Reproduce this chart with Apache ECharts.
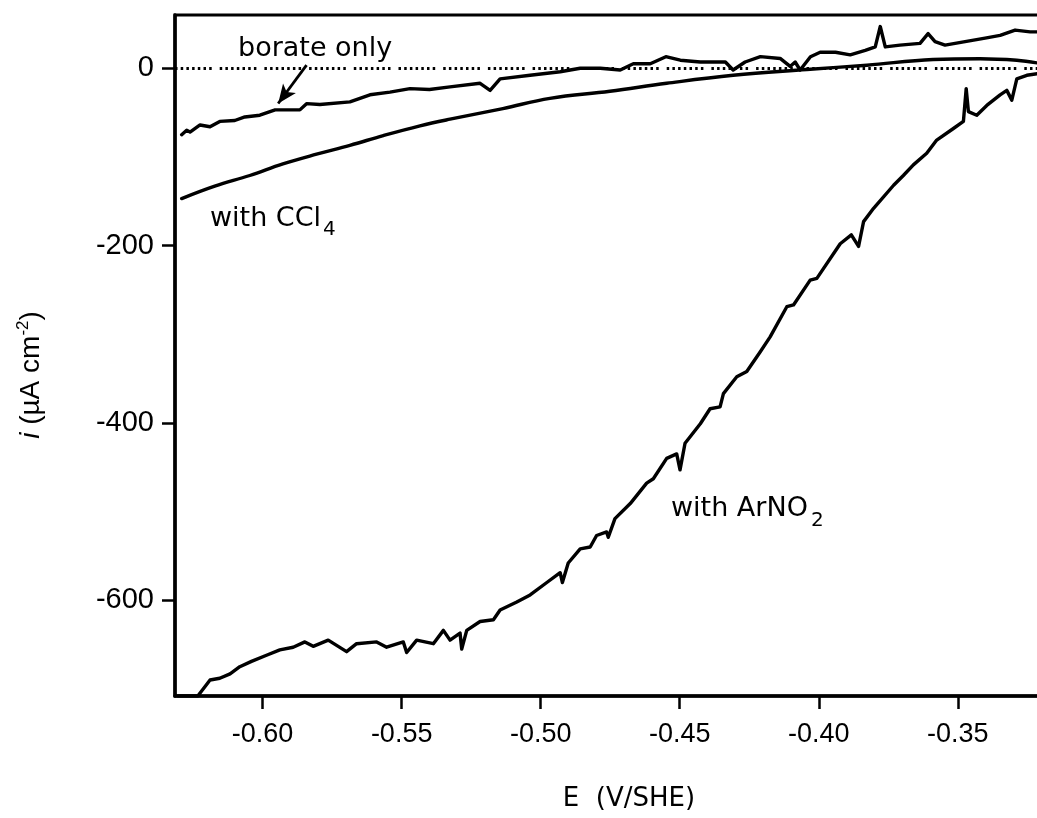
<!DOCTYPE html>
<html><head><meta charset="utf-8">
<script src="https://cdn.jsdelivr.net/npm/echarts@6/dist/echarts.min.js"></script>
<style>html,body{margin:0;padding:0;background:#fff}#c{width:1037px;height:818px}</style>
</head><body><div id="c"></div>
<script>
// tick labels
const xTicks = [-0.60, -0.55, -0.50, -0.45, -0.40, -0.35];
const yTicks = [-600, -400, -200, 0];

// borate only
const borateE = [-0.6291,-0.6273,-0.6261,-0.6225,-0.6189,-0.6154,-0.6100,-0.6064,-0.6010,-0.5955,-0.5866,-0.5842,-0.5794,-0.5686,-0.5614,-0.5542,-0.5470,-0.5400,-0.5326,-0.5218,-0.5182,-0.5146,-0.5038,-0.4930,-0.4858,-0.4786,-0.4714,-0.4667,-0.4606,-0.4550,-0.4498,-0.4426,-0.4336,-0.4308,-0.4265,-0.4210,-0.4139,-0.4103,-0.4085,-0.4067,-0.4030,-0.3995,-0.3940,-0.3887,-0.3833,-0.3797,-0.3779,-0.3761,-0.3708,-0.3636,-0.3607,-0.3582,-0.3546,-0.3474,-0.3402,-0.3348,-0.3294,-0.3240,-0.3210];
const borateI = [-75,-70,-72,-64,-66,-60,-59,-55,-53,-47,-47,-40,-41,-38,-30,-27,-23,-24,-21,-17,-25,-12,-8,-4,0,0,-2,5,5,13,9,7,7,-2,7,13,11,2,7,-2,13,18,18,15,20,24,47,24,26,28,39,30,26,30,34,37,43,41,41];

// with CCl4
const cclE = [-0.6291,-0.6172,-0.6046,-0.5927,-0.5806,-0.5686,-0.5566,-0.5434,-0.5326,-0.5136,-0.4967,-0.4751,-0.4547,-0.4308,-0.4043,-0.3827,-0.3589,-0.3420,-0.3288,-0.3215];
const cclI = [-147,-133,-121,-108,-97,-87,-76,-65,-57.5,-45.5,-34,-26,-17,-8,-1.5,3.4,9.8,10.7,9,6];

// with ArNO2
const arE = [-0.6305,-0.6233,-0.6189,-0.6154,-0.6117,-0.6082,-0.6040,-0.5986,-0.5938,-0.5890,-0.5848,-0.5818,-0.5764,-0.5698,-0.5662,-0.5590,-0.5554,-0.5494,-0.5482,-0.5446,-0.5386,-0.5350,-0.5326,-0.5290,-0.5284,-0.5266,-0.5218,-0.5170,-0.5146,-0.5086,-0.5038,-0.4978,-0.4930,-0.4922,-0.4901,-0.4858,-0.4822,-0.4799,-0.4763,-0.4757,-0.4733,-0.4678,-0.4619,-0.4595,-0.4547,-0.4511,-0.4499,-0.4481,-0.4426,-0.4391,-0.4355,-0.4343,-0.4295,-0.4259,-0.4211,-0.4175,-0.4115,-0.4091,-0.4031,-0.4007,-0.3923,-0.3883,-0.3857,-0.3839,-0.3803,-0.3731,-0.3696,-0.3660,-0.3612,-0.3576,-0.3516,-0.3480,-0.3470,-0.3462,-0.3432,-0.3396,-0.3348,-0.3324,-0.3306,-0.3288,-0.3252,-0.3210];
const arI = [-708,-708,-690,-688,-683,-675,-669,-662,-656,-653,-647,-652,-645,-658,-649,-647,-653,-647,-659,-645,-649,-634,-645,-637,-655,-634,-624,-622,-611,-602,-594,-580,-569,-580,-558,-542,-540,-527,-523,-529,-508,-491,-468,-463,-440,-435,-453,-423,-401,-384,-382,-367,-348,-342,-320,-303,-269,-267,-239,-237,-198,-188,-201,-173,-158,-132,-121,-109,-96,-81,-68,-60,-23,-49,-53,-42,-30,-25,-36,-12,-8,-6];

const zip = (a, b) => a.map((v, i) => [v, b[i]]);

const chart = echarts.init(document.getElementById('c'), null, {renderer: 'canvas'});
const lineStyle = {color: '#000', width: 3.4, join: 'round', cap: 'round'};
const dots = [];
for (let k = 0; k < 6; k++) { dots.push(2.5, 3.2); }
dots.push(2.5, 8);

const option = {
  animation: false,
  backgroundColor: '#fff',
  grid: {left: 175, right: -4, top: 15, bottom: 122, outerBoundsMode: 'none', containLabel: false,
         show: true, borderColor: '#000', borderWidth: 3, backgroundColor: 'transparent'},
  xAxis: {
    type: 'value', min: -0.6315, max: -0.3201,
    axisLine: {show: true, onZero: false, lineStyle: {color: '#000', width: 3.5}},
    axisTick: {show: true, customValues: xTicks, length: 13, lineStyle: {color: '#000', width: 2.5}},
    axisLabel: {customValues: xTicks, formatter: v => v.toFixed(2), fontSize: 27, color: '#000', fontFamily: 'Liberation Sans', margin: 25},
    splitLine: {show: false}
  },
  yAxis: {
    type: 'value', min: -708, max: 60,
    axisLine: {show: true, onZero: false, lineStyle: {color: '#000', width: 3.5}},
    axisTick: {show: true, customValues: yTicks, length: 13, lineStyle: {color: '#000', width: 2.5}},
    axisLabel: {customValues: yTicks, formatter: v => String(v), fontSize: 29, color: '#000', fontFamily: 'Liberation Sans', margin: 21},
    splitLine: {show: false}
  },
  series: [
    {
      name: 'borate only', type: 'line', data: zip(borateE, borateI), symbol: 'none', showSymbol: false,
      lineStyle: lineStyle, z: 3,
      markLine: {
        silent: true, animation: false, symbol: ['none', 'none'], label: {show: false},
        emphasis: {disabled: true},
        data: [
          {yAxis: 0, lineStyle: {color: '#000', width: 3, type: dots}},
          [{coord: [-0.5842, 3.4], symbol: 'none', lineStyle: {color: '#000', width: 2.8, type: 'solid'}},
           {coord: [-0.5944, -39.8], symbol: 'arrow', symbolSize: [12, 19]}]
        ]
      }
    },
    {
      name: 'with CCl4', type: 'line', data: zip(cclE, cclI), symbol: 'none', showSymbol: false, smooth: 0.4,
      lineStyle: lineStyle, z: 3
    },
    {
      name: 'with ArNO2', type: 'line', data: zip(arE, arI), symbol: 'none', showSymbol: false,
      lineStyle: lineStyle, z: 3
    }
  ],
  graphic: [
    {type: 'text', x: 238, y: 48.5, style: {text: 'borate only', fontSize: 27, fontFamily: 'DejaVu Sans', fill: '#000', align: 'left', verticalAlign: 'middle'}},
    {type: 'text', x: 210, y: 219, style: {text: 'with CCl', fontSize: 27, fontFamily: 'DejaVu Sans', fill: '#000', align: 'left', verticalAlign: 'middle'}},
    {type: 'text', x: 323, y: 230, style: {text: '4', fontSize: 20, fontFamily: 'DejaVu Sans', fill: '#000', align: 'left', verticalAlign: 'middle'}},
    {type: 'text', x: 671, y: 509, style: {text: 'with ArNO', fontSize: 27, fontFamily: 'DejaVu Sans', fill: '#000', align: 'left', verticalAlign: 'middle'}},
    {type: 'text', x: 811, y: 521, style: {text: '2', fontSize: 20, fontFamily: 'DejaVu Sans', fill: '#000', align: 'left', verticalAlign: 'middle'}},
    {type: 'text', x: 629, y: 799, style: {text: 'E  (V/SHE)', fontSize: 26, fontFamily: 'DejaVu Sans', fill: '#000', align: 'center', verticalAlign: 'middle'}},
    {type: 'text', x: 30, y: 375, rotation: Math.PI / 2,
      style: {
        text: '{it|i}{n| (µA cm}{s|-2}{n|)}', align: 'center', verticalAlign: 'middle', fill: '#000',
        rich: {
          it: {fontSize: 28, fontStyle: 'italic', fontFamily: 'Liberation Sans', lineHeight: 30, verticalAlign: 'bottom'},
          n: {fontSize: 28, fontFamily: 'Liberation Sans', lineHeight: 30, verticalAlign: 'bottom'},
          s: {fontSize: 17, fontFamily: 'Liberation Sans', lineHeight: 17, verticalAlign: 'top'}
        }
      }}
  ]
};
chart.setOption(option);
</script>
</body></html>
